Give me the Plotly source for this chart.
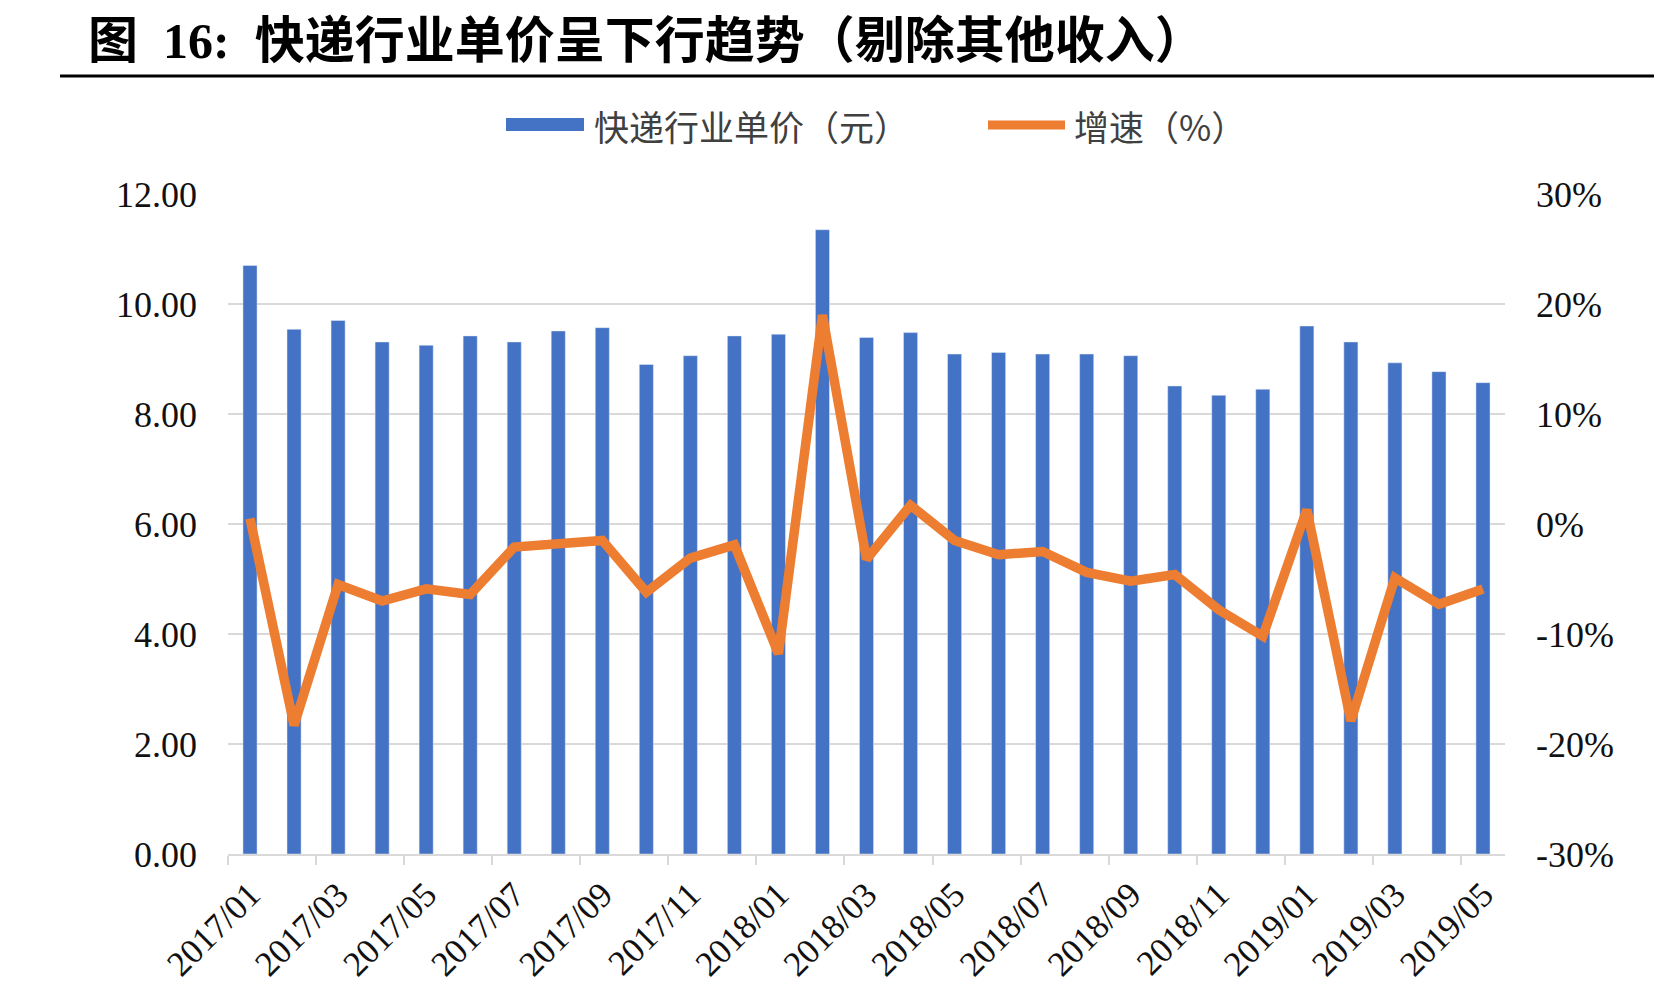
import plotly.graph_objects as go

# ---- data ----
months = [
    "2017/01", "2017/02", "2017/03", "2017/04", "2017/05", "2017/06", "2017/07", "2017/08",
    "2017/09", "2017/10", "2017/11", "2017/12", "2018/01", "2018/02", "2018/03", "2018/04",
    "2018/05", "2018/06", "2018/07", "2018/08", "2018/09", "2018/10", "2018/11", "2018/12",
    "2019/01", "2019/02", "2019/03", "2019/04", "2019/05",
]
unit_price = [
    10.70, 9.54, 9.70, 9.31, 9.25, 9.42, 9.31, 9.51,
    9.57, 8.90, 9.06, 9.42, 9.45, 11.35, 9.39, 9.48,
    9.09, 9.12, 9.09, 9.09, 9.06, 8.51, 8.34, 8.45,
    9.60, 9.31, 8.93, 8.77, 8.57,
]
growth = [
    0.005, -0.183, -0.055, -0.070, -0.059, -0.064, -0.021, -0.018,
    -0.015, -0.062, -0.031, -0.019, -0.118, 0.190, -0.032, 0.017,
    -0.015, -0.028, -0.025, -0.044, -0.052, -0.046, -0.078, -0.102,
    0.013, -0.179, -0.049, -0.073, -0.059,
]
right_tickvals = [-0.30, -0.20, -0.10, 0.0, 0.10, 0.20, 0.30]
right_ticktext = ["-30%", "-20%", "-10%", "0%", "10%", "20%", "30%"]
bar_name = "快递行业单价（元）"
line_name = "增速（%）"
title_text = "图  16:  快递行业单价呈下行趋势（剔除其他收入）"

BLUE = "#4472C4"
ORANGE = "#ED7D31"
GRID = "#D9D9D9"

OFF = 8  # page body margin
W, H = 1662 - 2 * OFF, 994 - 2 * OFF
L, R, T, B = 228 - OFF, 1505 - OFF, 194 - OFF, 854 - OFF
pw, ph = R - L, B - T


def px(x):
    return (x - OFF - L) / pw


def py(y):
    return (B - (y - OFF)) / ph


fig = go.Figure()
fig.add_trace(go.Bar(x=months, y=unit_price, name=bar_name, marker_color=BLUE,
                     showlegend=False))
fig.add_trace(go.Scatter(x=months, y=growth, name=line_name, yaxis="y2", mode="lines",
                         line=dict(color=ORANGE, width=9.5), showlegend=False))

tick_font = dict(family="Liberation Serif, Times New Roman, serif", size=36, color="#111111")
x_font = dict(family="Liberation Serif, Times New Roman, serif", size=35, color="#111111")

fig.update_layout(
    width=W, height=H,
    margin=dict(l=L, r=W - R, t=T, b=H - B, pad=0, autoexpand=False),
    paper_bgcolor="white", plot_bgcolor="white",
    bargap=0.68,
    xaxis=dict(type="category", tickangle=-45, tickfont=x_font, dtick=2,
               tickson="boundaries", ticks="outside", ticklen=9, tickwidth=2,
               tickcolor=GRID, showline=True, linecolor=GRID, linewidth=2,
               showgrid=False, ticklabelstandoff=4, automargin=False),
    yaxis=dict(range=[0, 12], dtick=2, tickformat=".2f", tickfont=tick_font,
               showgrid=True, gridcolor=GRID, gridwidth=2, zeroline=False,
               ticks="", ticklabelstandoff=30, automargin=False),
    yaxis2=dict(range=[-0.30, 0.30], tickvals=right_tickvals, ticktext=right_ticktext,
                tickfont=tick_font, overlaying="y", side="right", showgrid=False,
                zeroline=False, ticks="", ticklabelstandoff=30, automargin=False),
)

# title
fig.add_annotation(x=px(86), y=py(41), xref="paper", yref="paper", xanchor="left",
                   yanchor="middle", text="<b>" + title_text + "</b>", showarrow=False,
                   font=dict(family="Liberation Serif, Noto Sans CJK SC", size=50,
                             color="#000000"))
# rule under title
fig.add_shape(type="line", xref="paper", yref="paper", x0=px(60), x1=px(1700),
              y0=py(76), y1=py(76), line=dict(color="#000000", width=3))

# legend (manual)
leg_font = dict(family="Noto Sans CJK SC", size=35, color="#404040")
fig.add_shape(type="rect", xref="paper", yref="paper", x0=px(506), x1=px(584),
              y0=py(131), y1=py(118), fillcolor=BLUE, line=dict(width=0))
fig.add_annotation(x=px(592), y=py(125), xref="paper", yref="paper", xanchor="left",
                   yanchor="middle", text=bar_name, showarrow=False, font=leg_font)
fig.add_shape(type="line", xref="paper", yref="paper", x0=px(988), x1=px(1065),
              y0=py(125), y1=py(125), line=dict(color=ORANGE, width=9))
fig.add_annotation(x=px(1072), y=py(125), xref="paper", yref="paper", xanchor="left",
                   yanchor="middle", text=line_name, showarrow=False, font=leg_font)

fig.write_html("out.html")
